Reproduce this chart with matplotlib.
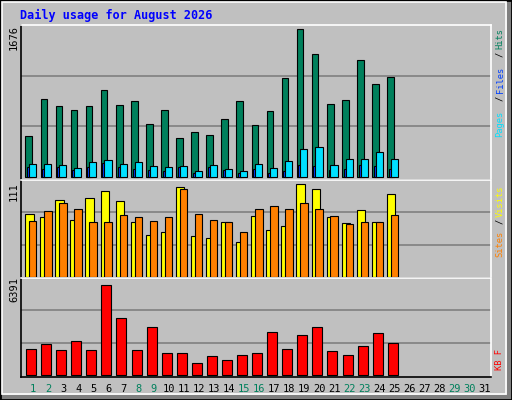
import matplotlib
matplotlib.use('Agg')
import matplotlib.pyplot as plt
from matplotlib.patches import Rectangle
import numpy as np

days = np.arange(1, 26)
hits = [452, 860, 783, 739, 783, 960, 794, 838, 585, 739, 430, 496, 463, 640, 838, 574,
        728, 1092, 1632, 1357, 805, 849, 1290, 1026, 1103]
files = [143, 143, 132, 99, 165, 187, 143, 165, 121, 110, 121, 66, 132, 88, 66, 143,
         99, 176, 309, 331, 132, 199, 199, 276, 199]
pages = [110, 88, 110, 77, 110, 154, 110, 88, 77, 66, 110, 44, 110, 77, 44, 88,
         44, 66, 132, 121, 77, 88, 132, 121, 88]
visits = [73, 69, 89, 66, 91, 99, 88, 64, 49, 52, 104, 47, 45, 63, 40, 70,
          54, 59, 107, 102, 69, 62, 77, 63, 96]
sites = [65, 76, 85, 78, 63, 63, 72, 69, 65, 69, 102, 73, 66, 64, 52, 79,
         82, 79, 85, 79, 70, 61, 63, 63, 72]
kbytes = [1714, 2040, 1649, 2235, 1649, 5946, 3732, 1649, 3147, 1454, 1454, 803, 1259, 998,
          1324, 1454, 2821, 1714, 2626, 3147, 1584, 1324, 1910, 2756, 2105]
weekend = [1, 2, 8, 9, 15, 16, 22, 23, 29, 30]
max_hits, max_visits, max_kb = 1676, 111, 6391

BG = '#C0C0C0'
GREEN = '#00805C'
MONO = 'DejaVu Sans Mono'
W, H = 512.0, 400.0

fig = plt.figure(figsize=(5.12, 4.0), dpi=100, facecolor=BG)

def px_axes(x0, y0, x1, y1):
    return fig.add_axes([x0 / W, 1 - y1 / H, (x1 - x0) / W, (y1 - y0) / H])

# frame bevel
fig.patches.append(Rectangle((0, 0), 1, 5 / H, transform=fig.transFigure, color='#808080', lw=0))
fig.patches.append(Rectangle((1 - 5 / W, 0), 5 / W, 1, transform=fig.transFigure, color='#808080', lw=0))
fig.patches.append(Rectangle((0, 0), 1, 1, transform=fig.transFigure, fill=False,
                             ec='black', lw=2))
fig.patches.append(Rectangle((2 / W, 6 / H), (W - 8) / W, (H - 8) / H, transform=fig.transFigure,
                             fill=False, ec='white', lw=1.2))

fig.text(20 / W, 1 - 15 / H, 'Daily usage for August 2026', family=MONO, weight='bold',
         color='#0000FF', fontsize=8.5, va='center')

xl = (0.18, 31.4)
ax1 = px_axes(20.5, 25, 491, 180)
ax2 = px_axes(20.5, 180, 491, 278)
ax3 = px_axes(20.5, 278, 491, 377)

def style(ax, top, lo):
    ax.set_facecolor(BG)
    ax.set_xlim(*xl)
    ax.set_ylim(lo, top)
    for v in (top / 3, 2 * top / 3):
        ax.axhline(v, color='#808080', lw=1.2, zorder=0)
    ax.set_xticks([]); ax.set_yticks([])
    for s in ax.spines.values():
        s.set_color('black'); s.set_linewidth(1.2)
    ax.spines['top'].set_color('white'); ax.spines['right'].set_color('white')

style(ax1, max_hits, -3 / 152 * max_hits)
style(ax2, max_visits + 1, -1.2)
style(ax3, max_kb, -130)

kw = dict(edgecolor='black', linewidth=0.8, align='edge')
ax1.bar(days - 0.49, hits, width=0.44, color=GREEN, **kw)
ax1.bar(days - 0.38, pages, width=0.18, color='#0040FF', **kw)
ax1.bar(days - 0.25, files, width=0.47, color='#00E0FF', **kw)
ax2.bar(days - 0.51, visits, width=0.56, color='#FFFF00', **kw)
ax2.bar(days - 0.25, sites, width=0.49, color='#FF8000', **kw)
ax3.bar(days - 0.45, kbytes, width=0.66, color='#FF0000', **kw)

# max labels on the left
for y, s in ((38, str(max_hits)), (192, str(max_visits)), (290, str(max_kb))):
    fig.text(14 / W, 1 - y / H, s, rotation=90, family=MONO, fontsize=7.5,
             ha='center', va='center')

# right-side legends, pieces stacked upward
def side(pieces, y_bottom, step=5.3):
    y = y_bottom
    for txt, col in pieces:
        fig.text(500 / W, 1 - y / H, txt, rotation=90, family=MONO, fontsize=6.3,
                 color=col, ha='center', va='bottom')
        y -= len(txt) * step + 1

side([('Pages', '#00E0FF'), ('/', 'black'), ('Files', '#0040FF'),
      ('/', 'black'), ('Hits', GREEN)], 137, step=7.0)
side([('Sites', '#FF8000'), ('/', 'black'), ('Visits', '#FFFF00')], 257, step=6.3)
side([('KB F', '#FF0000')], 370, step=6.0)

# day labels
for d in range(1, 32):
    x = 20.5 + (d - xl[0]) / (xl[1] - xl[0]) * (491 - 20.5)
    fig.text(x / W, 1 - 389 / H, str(d), family=MONO, fontsize=7.5, ha='center', va='center',
             color=GREEN if d in weekend else 'black')

fig.savefig('out.png', dpi=100, facecolor=BG)
